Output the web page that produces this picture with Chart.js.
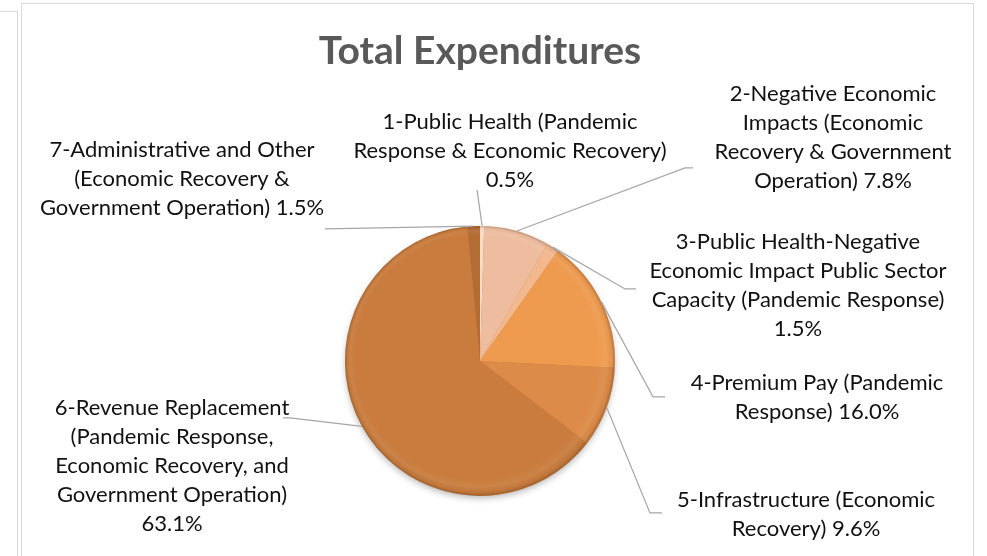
<!DOCTYPE html>
<html>
<head>
<meta charset="utf-8">
<script src="https://cdn.jsdelivr.net/npm/chart.js@4"></script>
<style>
  html, body { margin: 0; padding: 0; background: #fff; }
  #wrap { position: relative; width: 987px; height: 556px; overflow: hidden; }
  #side { position: absolute; left: -2px; top: 11px; width: 18px; height: 600px; border: 1px solid #d9d9d9; }
  #frame { position: absolute; left: 21px; top: 3px; width: 951px; height: 600px; border: 1px solid #d9d9d9; }
  #c { position: absolute; left: 0; top: 0; }
</style>
</head>
<body>
<div id="wrap">
  <div id="side"></div>
  <div id="frame"></div>
  <canvas id="c" width="987" height="556"></canvas>
</div>
<script>
// dades
const titol = "Total Expenditures";
const categories = [
  ["1-Public Health (Pandemic", "Response & Economic Recovery)"],
  ["2-Negative Economic", "Impacts (Economic", "Recovery & Government", "Operation)"],
  ["3-Public Health-Negative", "Economic Impact Public Sector", "Capacity (Pandemic Response)"],
  ["4-Premium Pay (Pandemic", "Response)"],
  ["5-Infrastructure (Economic", "Recovery)"],
  ["6-Revenue Replacement", "(Pandemic Response,", "Economic Recovery, and", "Government Operation)"],
  ["7-Administrative and Other", "(Economic Recovery &", "Government Operation)"]
];
const percentatges = [0.5, 7.8, 1.5, 16.0, 9.6, 63.1, 1.5];

// estil
const colors = ["#f8dbc8", "#eebd9f", "#f2b88e", "#ee9b50", "#dc8b48", "#c97c3d", "#b36c34"];
const pctMateixaLinia = [false, true, false, true, true, false, true];
// posicio etiqueta (centre x, primera linia y) i colze de la guia, relatius al centre del pastis
const posEtiqueta = [[30, -239], [353, -267], [318, -119], [337, 22], [326, 139], [-308, 47], [-298, -211]];
const colze = [[-3, -171], [205, -193], [145, -72], [173, 36], [170, 152], [-190, 57], [-155, -132]];
const cua = [0, 8, 11, 12, 12, -7, 0];
const FONT = "Lato, 'Liberation Sans', sans-serif";
const INTERLINIA = 29;

function liniesEtiqueta(i) {
  let l = categories[i].slice();
  let pct = percentatges[i].toFixed(1) + "%";
  if (pctMateixaLinia[i]) l[l.length - 1] += " " + pct;
  else l.push(pct);
  return l;
}

const ombraPlugin = {
  id: "ombra",
  beforeDatasetsDraw(chart) {
    let arc = chart.getDatasetMeta(0).data[0];
    if (!arc) return;
    let ctx = chart.ctx;
    ctx.save();
    ctx.shadowColor = "rgba(0,0,0,0.3)";
    ctx.shadowBlur = 7;
    ctx.shadowOffsetY = 3;
    ctx.fillStyle = "#c97c3d";
    ctx.beginPath();
    ctx.arc(arc.x, arc.y, arc.outerRadius - 1, 0, Math.PI * 2);
    ctx.fill();
    ctx.restore();
  },
  afterDatasetsDraw(chart) {
    let arc = chart.getDatasetMeta(0).data[0];
    if (!arc) return;
    let ctx = chart.ctx, r = arc.outerRadius;
    ctx.save();
    // vora bisellada
    let g = ctx.createRadialGradient(arc.x - 4, arc.y - 4, r * 0.9, arc.x, arc.y, r);
    g.addColorStop(0, "rgba(255,255,255,0)");
    g.addColorStop(0.5, "rgba(255,255,255,0.06)");
    g.addColorStop(0.8, "rgba(0,0,0,0.04)");
    g.addColorStop(1, "rgba(60,25,0,0.28)");
    ctx.fillStyle = g;
    ctx.beginPath();
    ctx.arc(arc.x, arc.y, r, 0, Math.PI * 2);
    ctx.fill();
    ctx.restore();
  }
};

const etiquetesPlugin = {
  id: "etiquetes",
  afterDraw(chart) {
    let ctx = chart.ctx;
    let meta = chart.getDatasetMeta(0);
    ctx.save();
    meta.data.forEach((arc, i) => {
      let p = arc.getProps(["x", "y", "startAngle", "endAngle", "outerRadius"], true);
      let mig = (p.startAngle + p.endAngle) / 2;
      let vx = p.x + Math.cos(mig) * p.outerRadius;
      let vy = p.y + Math.sin(mig) * p.outerRadius;
      let ex = p.x + colze[i][0], ey = p.y + colze[i][1];
      ctx.strokeStyle = "#a6a6a6";
      ctx.lineWidth = 1.2;
      ctx.beginPath();
      ctx.moveTo(vx, vy);
      ctx.lineTo(ex, ey);
      if (cua[i]) ctx.lineTo(ex + cua[i], ey);
      ctx.stroke();

      ctx.fillStyle = "#111";
      ctx.font = "22px " + FONT;
      ctx.textAlign = "center";
      ctx.textBaseline = "middle";
      let lx = p.x + posEtiqueta[i][0], ly = p.y + posEtiqueta[i][1];
      liniesEtiqueta(i).forEach((t, k) => ctx.fillText(t, lx, ly + k * INTERLINIA));
    });
    ctx.restore();
  }
};

new Chart(document.getElementById("c"), {
  type: "pie",
  data: {
    labels: categories,
    datasets: [{
      data: percentatges,
      backgroundColor: colors,
      borderWidth: 0,
      radius: 135
    }]
  },
  options: {
    responsive: false,
    animation: false,
    layout: { padding: { left: 0, right: 27, top: 0, bottom: 0 } },
    plugins: {
      legend: { display: false },
      tooltip: { enabled: false },
      title: {
        display: true,
        text: titol,
        color: "#595959",
        font: { family: FONT, size: 39, weight: "bold" },
        padding: { top: 28, bottom: 91 }
      }
    }
  },
  plugins: [ombraPlugin, etiquetesPlugin]
});
</script>
</body>
</html>
